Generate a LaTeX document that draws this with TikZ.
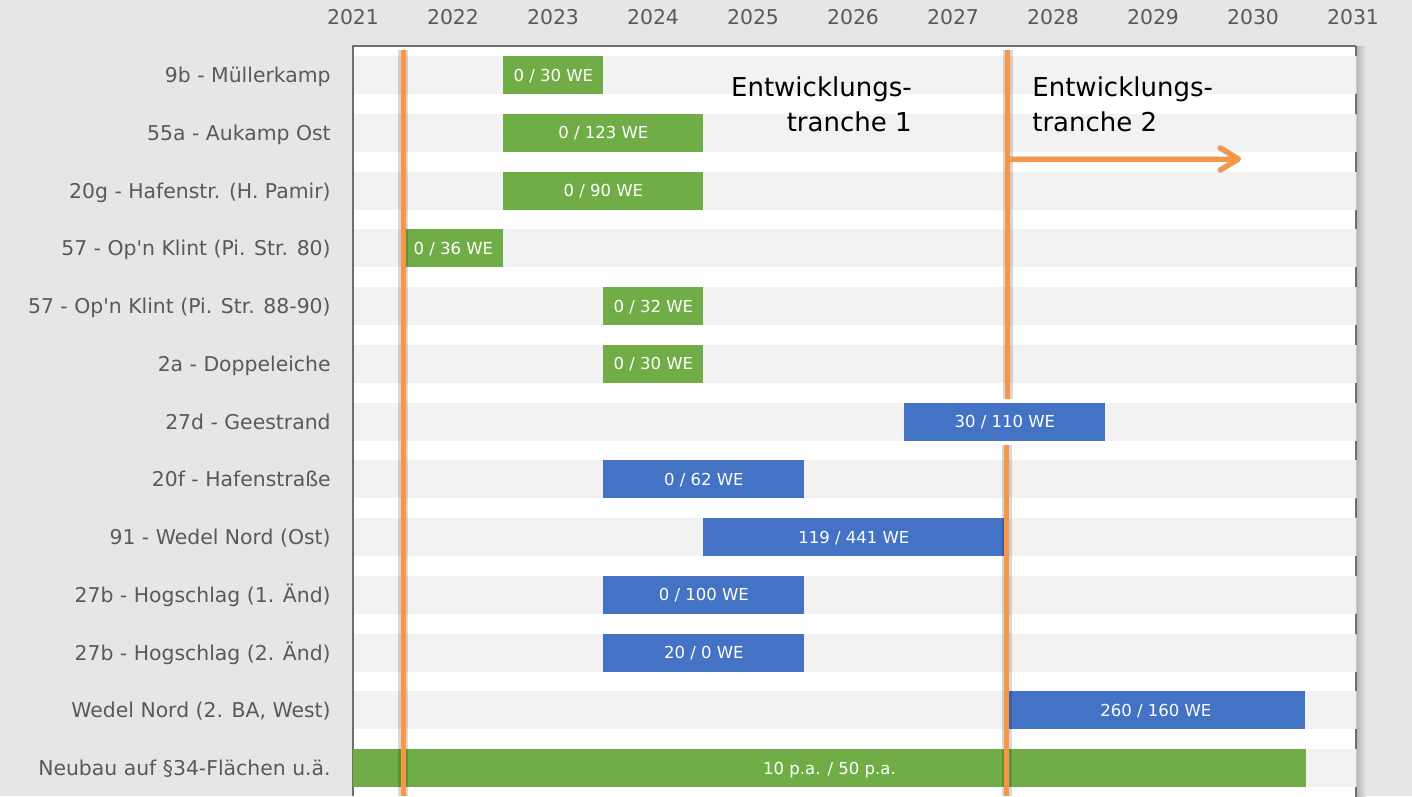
\documentclass[tikz,border=0pt]{standalone}
\usepackage{fontspec}
\setmainfont{DejaVu Sans}
\usepackage{tikz}
\usetikzlibrary{arrows.meta,positioning}

\definecolor{bggray}{HTML}{E6E6E6}
\definecolor{stripe}{HTML}{F2F2F2}
\definecolor{labgray}{HTML}{595959}
\definecolor{framegray}{HTML}{6E6E6E}
\definecolor{rimgray}{HTML}{C8C8C8}
\definecolor{wgreen}{HTML}{70AD47}
\definecolor{wblue}{HTML}{4472C4}
\definecolor{orng}{HTML}{F79646}

\tikzset{
	rowlabel/.style={anchor=base east, inner sep=0pt, text=labgray, font=\fontsize{11.6}{14}\selectfont},
	yearlabel/.style={anchor=base, inner sep=0pt, text=labgray, font=\fontsize{11.6}{13}\selectfont},
	planbar/.style={anchor=west, minimum height=0.76cm, inner sep=0pt, text=white,
		text height=8.8pt, text depth=1.94pt, font=\fontsize{9.4}{11}\selectfont},
	greenbar/.style={planbar, fill=wgreen},
	bluebar/.style={planbar, fill=wblue},
	tranche/.style={inner sep=0pt, text=black, font=\fontsize{14.8}{19.85}\selectfont},
	oline/.style={draw=orng, line width=0.1cm},
	oshadow/.style={draw=black, opacity=0.08, line width=0.2cm},
	tip/.style={-{Straight Barb[length={0.36cm 0}, width={0.44cm 0}, round]}}
}

\begin{document}
\begin{tikzpicture}[x=0.02cm,y=-0.02cm]
	\fill[bggray] (0,0) rectangle (1412,796);
	\useasboundingbox (0,0) rectangle (1412,796);
	% plot area
	\fill[white] (353,46) rectangle (1356,796);
	\shade[left color=black!30, right color=bggray] (1356,46) rectangle (1366,796);
	\foreach \r in {0,...,12}
		\fill[stripe] (353,{75+57.75*\r-19}) rectangle (1356,{75+57.75*\r+19});
	\draw[rimgray, line width=0.02cm] (1356,46) -- (1356,796);
	\draw[framegray, line width=0.025cm] (353,796) -- (353,46) -- (1356,46);
	\draw[framegray, line width=0.04cm] (1356,46) -- (1356,56);
	\foreach \r in {0,...,12}
		\draw[framegray, line width=0.04cm] (1356,{75+57.75*\r+19}) -- (1356,{75+57.75*\r+38.75});

	% years
	\foreach \yr [count=\k from 0] in {2021,...,2031}
		\node[yearlabel] (y\yr) at ({353+100*\k},24.5) {\yr};

	% rows
	\node[rowlabel] (lbl0) at (331,82.5) {9b - Müllerkamp};
	\node[rowlabel] (lbl1) at (331,140.25) {55a - Aukamp Ost};
	\node[rowlabel] (lbl2) at (331,198) {20g - Hafenstr. (H. Pamir)};
	\node[rowlabel] (lbl3) at (331,255.75) {57 - Op\textquotesingle n Klint (Pi. Str. 80)};
	\node[rowlabel] (lbl4) at (331,313.5) {57 - Op\textquotesingle n Klint (Pi. Str. 88-90)};
	\node[rowlabel] (lbl5) at (331,371.25) {2a - Doppeleiche};
	\node[rowlabel] (lbl6) at (331,429) {27d - Geestrand};
	\node[rowlabel] (lbl7) at (331,486.75) {20f - Hafenstraße};
	\node[rowlabel] (lbl8) at (331,544.5) {91 - Wedel Nord (Ost)};
	\node[rowlabel] (lbl9) at (331,602.25) {27b - Hogschlag (1. Änd)};
	\node[rowlabel] (lbl10) at (331,660) {27b - Hogschlag (2. Änd)};
	\node[rowlabel] (lbl11) at (331,717.75) {Wedel Nord (2. BA, West)};
	\node[rowlabel] (lbl12) at (331,775.5) {Neubau auf §34-Flächen u.ä.};

	% bars
	\node[greenbar, minimum width=2cm] (bar0) at (503,75) {0 / 30 WE};
	\node[greenbar, minimum width=4cm] (bar1) at (503,132.75) {0 / 123 WE};
	\node[greenbar, minimum width=4cm] (bar2) at (503,190.5) {0 / 90 WE};
	\node[greenbar, minimum width=2cm] (bar3) at (403,248.25) {0 / 36 WE};
	\node[greenbar, minimum width=2cm] (bar4) at (603,306) {0 / 32 WE};
	\node[greenbar, minimum width=2cm] (bar5) at (603,363.75) {0 / 30 WE};
	\node[bluebar, minimum width=4.02cm] (bar6) at (904,421.5) {30 / 110 WE};
	\node[bluebar, minimum width=4.02cm] (bar7) at (603,479.25) {0 / 62 WE};
	\node[bluebar, minimum width=6.02cm] (bar8) at (703,537) {119 / 441 WE};
	\node[bluebar, minimum width=4.02cm] (bar9) at (603,594.75) {0 / 100 WE};
	\node[bluebar, minimum width=4.02cm] (bar10) at (603,652.5) {20 / 0 WE};
	\node[bluebar, minimum width=5.98cm] (bar11) at (1006,710.25) {260 / 160 WE};
	\node[greenbar, minimum width=19.05cm] (bar12) at (353,768) {10 p.a. / 50 p.a.};

	% tranche markers
	\coordinate (t1top) at (403,50);
	\coordinate (t1bot) at (403,796);
	\coordinate (t2top) at (1007.5,50);
	\coordinate (t2gap) at (1007.5,399);
	\coordinate (t2low) at (1006.5,445);
	\coordinate (t2bot) at (1006.5,796);
	\coordinate (arrfrom) at (1007.5,159);
	\coordinate (arrto) at (1241,159);

	\foreach \s in {0.08,0.12}{
		\draw[oshadow, xshift=\s cm] (t1top) -- (t1bot);
		\draw[oshadow, xshift=\s cm] (t2top) -- (t2gap);
		\draw[oshadow, xshift=\s cm] (t2low) -- (t2bot);
		\draw[oshadow, line width=0.12cm, tip, xshift=0.06cm, yshift=-\s cm] (arrfrom) -- (arrto);
	}
	\draw[oline] (t1top) -- (t1bot);
	\draw[oline] (t2top) -- (t2gap);
	\draw[oline] (t2low) -- (t2bot);
	\draw[oline, tip] (arrfrom) -- (arrto);

	\node[tranche, anchor=east, align=right] (tr1) at (912,104.6) {Entwicklungs-\\tranche 1};
	\node[tranche, anchor=west, align=left] (tr2) at (1032,104.6) {Entwicklungs-\\tranche 2};
\end{tikzpicture}
\end{document}
